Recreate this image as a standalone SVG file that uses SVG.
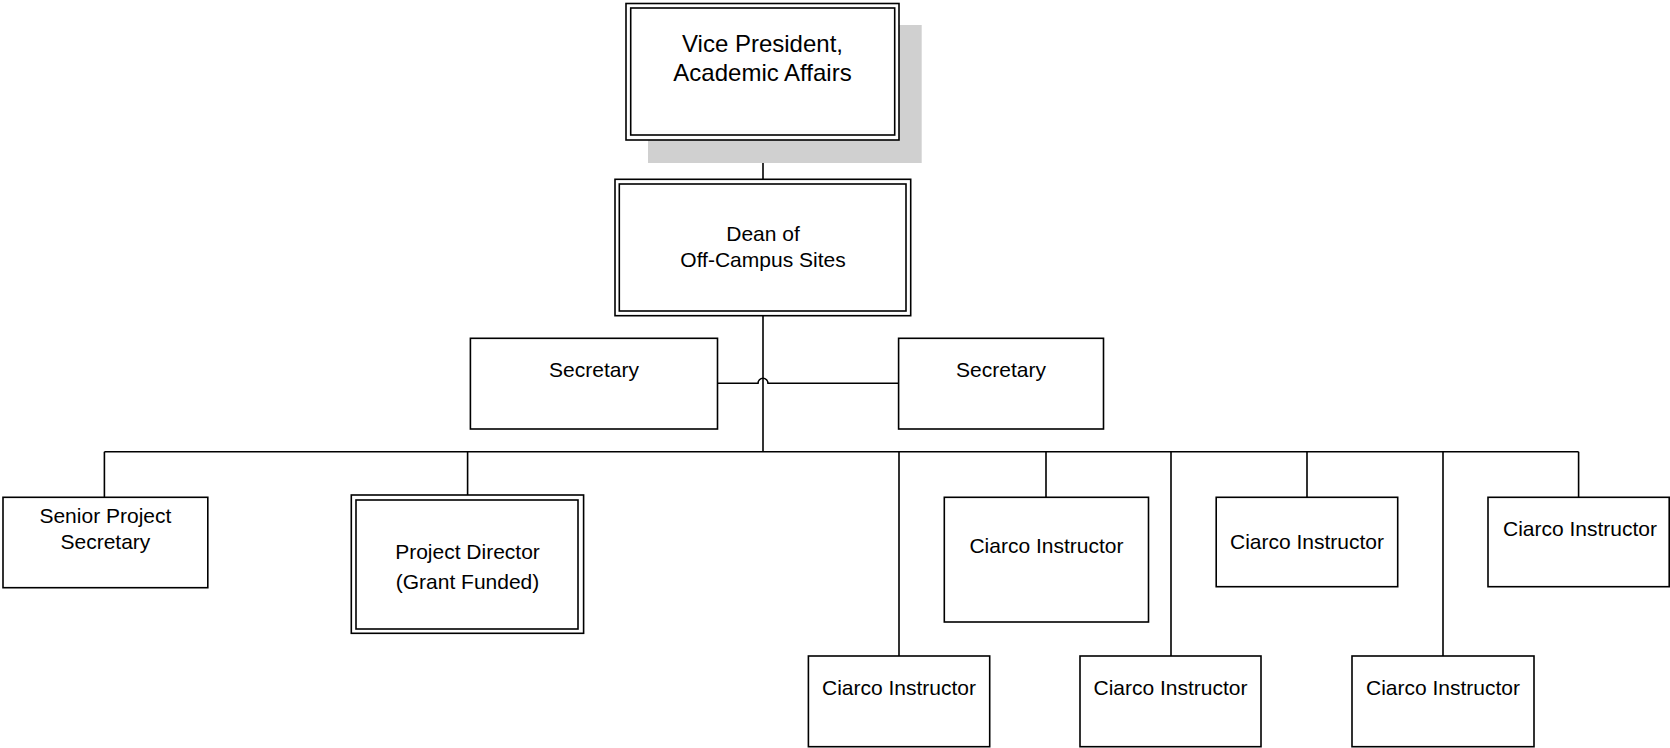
<svg xmlns="http://www.w3.org/2000/svg" width="1670" height="748" viewBox="0 0 1670 748">
<style>
.box{fill:#fff;stroke:#000;stroke-width:1.6}
.ln{fill:none;stroke:#000;stroke-width:1.6}
.t{font-family:"Liberation Sans",Arial,sans-serif;font-size:21px;fill:#000;text-anchor:middle}
.tb{font-size:24px}
</style>
<rect width="1670" height="748" fill="#fff"/>
<g id="connectors">
<path class="ln" d="M763 140V179"/>
<path class="ln" d="M763 315.7V451.7"/>
<path class="ln" d="M717.5 383.3H758A5 5 0 0 1 768 383.3H898.6"/>
<path class="ln" d="M104.4 451.7H1578.6"/>
<path class="ln" d="M104.4 451.7V497.3M467.6 451.7V495M899 451.7V656M1046 451.7V497.3M1171 451.7V656M1307 451.7V497.3M1443 451.7V656M1578.6 451.7V497.3"/>
</g>
<g id="vp">
<rect x="648" y="25" width="273.7" height="138" fill="#d0d0d0"/>
<rect class="box" x="626" y="3.5" width="273" height="136.5"/>
<rect class="box" x="630.7" y="8" width="264" height="127"/>
<text class="t tb" x="762.5" y="52">Vice President,</text>
<text class="t tb" x="762.5" y="81">Academic Affairs</text>
</g>
<g id="dean">
<rect class="box" x="615" y="179.3" width="295.7" height="136.4"/>
<rect class="box" x="619.3" y="184" width="286.7" height="127"/>
<text class="t" x="763" y="240.7">Dean of</text>
<text class="t" x="763" y="267">Off-Campus Sites</text>
</g>
<g id="sec1">
<rect class="box" x="470.4" y="338.3" width="247.1" height="90.7"/>
<text class="t" x="594" y="377.3">Secretary</text>
</g>
<g id="sec2">
<rect class="box" x="898.6" y="338.3" width="204.9" height="90.7"/>
<text class="t" x="1001" y="377.3">Secretary</text>
</g>
<g id="sps">
<rect class="box" x="3" y="497.3" width="204.8" height="90.4"/>
<text class="t" x="105.4" y="522.5">Senior Project</text>
<text class="t" x="105.4" y="549">Secretary</text>
</g>
<g id="pd">
<rect class="box" x="351.3" y="495" width="232.3" height="138.3"/>
<rect class="box" x="356" y="500" width="222" height="129"/>
<text class="t" x="467.5" y="559">Project Director</text>
<text class="t" x="467.5" y="588.5">(Grant Funded)</text>
</g>
<g id="ciarcoA">
<rect class="box" x="944.3" y="497.3" width="204.2" height="124.7"/>
<text class="t" x="1046.4" y="553">Ciarco Instructor</text>
</g>
<g id="ciarcoB">
<rect class="box" x="1216.2" y="497.3" width="181.5" height="89.4"/>
<text class="t" x="1307" y="548.5">Ciarco Instructor</text>
</g>
<g id="ciarcoC">
<rect class="box" x="1488" y="497.3" width="181.2" height="89.4"/>
<text class="t" x="1580" y="535.7">Ciarco Instructor</text>
</g>
<g id="ciarcoD">
<rect class="box" x="808.4" y="656" width="181.3" height="90.7"/>
<text class="t" x="899" y="694.7">Ciarco Instructor</text>
</g>
<g id="ciarcoE">
<rect class="box" x="1080" y="656" width="181" height="90.7"/>
<text class="t" x="1170.5" y="694.7">Ciarco Instructor</text>
</g>
<g id="ciarcoF">
<rect class="box" x="1352" y="656" width="182" height="90.7"/>
<text class="t" x="1443" y="694.7">Ciarco Instructor</text>
</g>
</svg>
